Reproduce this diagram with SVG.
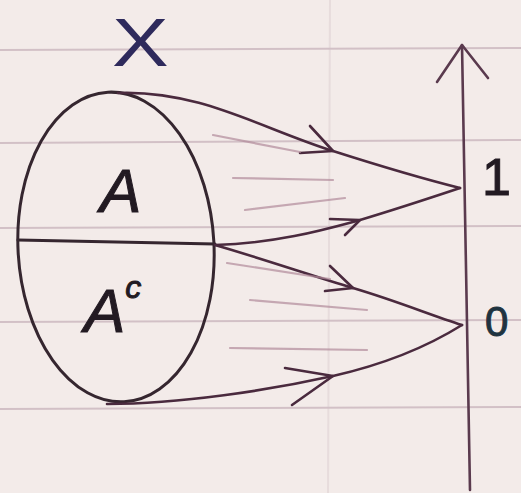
<svg xmlns="http://www.w3.org/2000/svg" width="521" height="493" viewBox="0 0 521 493">
<defs>
<style>
.rule{stroke:#d2c0c6;stroke-width:2;fill:none}
.ink{stroke:#35262f;stroke-width:3;fill:none;stroke-linecap:round;stroke-linejoin:round}
.arr{stroke:#4a2a3e;stroke-width:2.6;fill:none;stroke-linecap:round;stroke-linejoin:round}
.faint{stroke:#b08a9a;stroke-width:2.2;fill:none;stroke-linecap:round;opacity:0.7}
.hand{font-family:"Liberation Sans",Arial,sans-serif;fill:#221a22;stroke:#221a22;stroke-width:1}
</style>
</defs>
<rect width="521" height="493" fill="#f3ebe9"/>
<g id="paper">
<path class="rule" d="M0 50 L521 48"/>
<path class="rule" d="M0 143 L521 140"/>
<path class="rule" d="M0 228 L521 226"/>
<path class="rule" d="M0 322 L521 320"/>
<path class="rule" d="M0 409 L521 407"/>
<path class="rule" d="M330 0 L328 493" style="opacity:0.35"/>
</g>
<g id="set-X">
<ellipse class="ink" cx="116" cy="247" rx="98" ry="155" transform="rotate(-3 116 247)"/>
<path class="ink" d="M18 240 L215 244"/>
<text x="112" y="66" font-size="68" style="font-family:'Liberation Sans',Arial,sans-serif;fill:#2e2a5c" transform="translate(112 66) scale(1.25 1) translate(-112 -66)">X</text>
</g>
<g id="A"><text class="hand" x="100" y="212" font-size="62" font-style="italic">A</text></g>
<g id="Ac"><text class="hand" x="84" y="332" font-size="62" font-style="italic">A<tspan font-size="32" dy="-34">c</tspan></text></g>
<g id="axis">
<path class="ink" d="M470 490 L462 45" style="stroke:#5a3a4e;stroke-width:2.6"/>
<path class="ink" d="M437 82 L462 45 L488 78" style="stroke:#5a3a4e;stroke-width:2.6"/>
</g>
<g id="val1"><text class="hand" x="482" y="195" font-size="52">1</text></g>
<g id="val0"><text class="hand" x="485" y="336" font-size="42" style="fill:#1f3340;stroke:#1f3340">0</text></g>
<g id="connectors">
<path class="arr" d="M118 93 C200 90 260 128 333 151 C380 166 420 178 460 188"/>
<path class="arr" d="M310 126 L333 151 L300 153"/>
<path class="arr" d="M215 245 C280 243 330 228 360 220 C400 208 430 198 460 188"/>
<path class="arr" d="M330 219 L360 220 L345 235"/>
<path class="arr" d="M215 245 C260 258 310 275 353 288 C400 302 430 315 462 325"/>
<path class="arr" d="M330 266 L353 288 L325 291"/>
<path class="arr" d="M107 404 C180 404 270 390 333 376 C390 363 430 345 462 325"/>
<path class="arr" d="M285 368 L333 376 L292 405"/>
<path class="faint" d="M213 135 L300 152"/>
<path class="faint" d="M233 178 L333 180"/>
<path class="faint" d="M245 210 L345 198"/>
<path class="faint" d="M227 263 L330 279"/>
<path class="faint" d="M250 300 L367 310"/>
<path class="faint" d="M230 348 L367 350"/>
</g>
</svg>
